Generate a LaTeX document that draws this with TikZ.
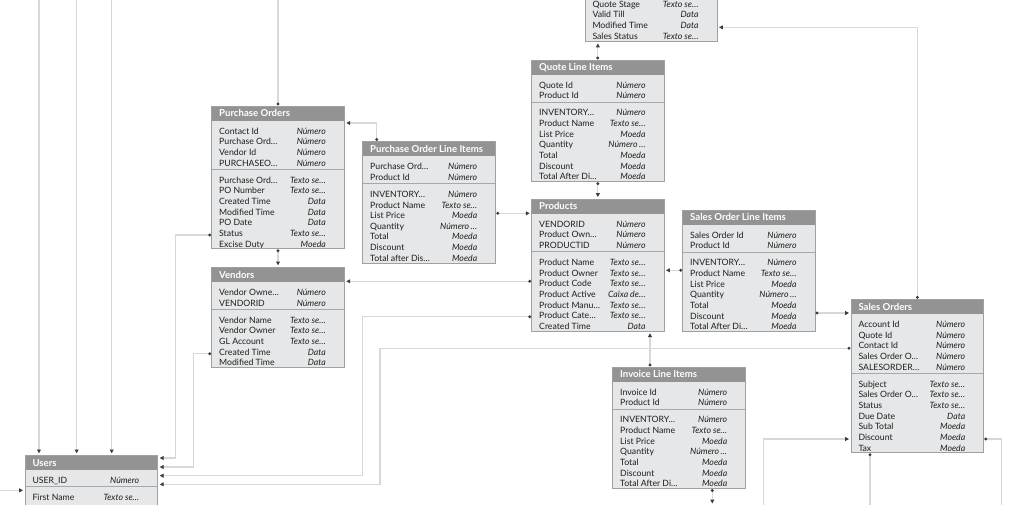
\documentclass[tikz,border=0pt]{standalone}
\usepackage{fontspec}
\setmainfont{Lato}
\usetikzlibrary{arrows.meta,calc}
\definecolor{hdrgray}{HTML}{939393}
\definecolor{bodygray}{HTML}{E6E7E8}
\definecolor{bordergray}{HTML}{A0A0A0}
\definecolor{sepgray}{HTML}{A8A8A8}
\definecolor{linegray}{HTML}{D8D8D8}
\definecolor{tipcol}{HTML}{3C3C3C}
\definecolor{txtcol}{HTML}{1E1E1E}
\tikzset{
  tblbody/.style={fill=bodygray, inner sep=0pt, outer sep=0pt},
  tblhead/.style={fill=hdrgray, inner sep=0pt, outer sep=0pt},
  tbltitle/.style={inner sep=0pt, text=white, font=\fontsize{9.6}{11}\selectfont\bfseries},
  tblborder/.style={draw=bordergray, line width=1pt},
  sepline/.style={draw=sepgray, line width=0.9pt},
  rowname/.style={anchor=base west, inner sep=0pt, text=txtcol, font=\fontsize{8.7}{10}\selectfont},
  rowtype/.style={anchor=base east, inner sep=0pt, text=txtcol, font=\fontsize{8.7}{10}\selectfont\itshape},
  conn/.style={draw=linegray, line width=1.1pt, shorten >=2pt, shorten <=0.6pt},
  dotarrow/.style={conn, {Circle[length=2.8pt,color=tipcol]}-{Triangle[length=3.8pt,width=3.8pt,color=tipcol]}},
  toarrow/.style={conn, -{Triangle[length=3.8pt,width=3.8pt,color=tipcol]}},
  dotonly/.style={conn, {Circle[length=2.8pt,color=tipcol]}-},
}
% #1 name #2 left #3 top #4 right #5 title #6 n1 #7 rows1 #8 n2 #9 rows2
\newcommand\dbtable[9]{%
  \pgfmathsetmacro\tL{#2}\pgfmathsetmacro\tT{#3}\pgfmathsetmacro\tR{#4}%
  \pgfmathsetmacro\tW{#4-#2}%
  \pgfmathsetmacro\tHB{#3+14.5}%
  \pgfmathsetmacro\tSep{\tHB+10.5+(#6-1)*10.65+6.3}%
  \pgfmathsetmacro\tBot{\tSep+10.7+(#8-1)*10.65+5}%
  \pgfmathsetmacro\tH{\tBot-#3}%
  \node[tblbody, minimum width=\tW pt, minimum height=\tH pt, anchor=north west] (#1) at (\tL,\tT) {};
  \node[tblhead, minimum width=\tW pt, minimum height=14.5pt, anchor=north west] (#1-h) at (\tL,\tT) {};
  \node[tbltitle, anchor=base west] (#1-t) at (\tL+7.3,\tT+10.9) {#5};
  \draw[sepline] (\tL,\tSep) -- (\tR,\tSep);
  \foreach \nm/\ty [count=\i] in {#7} {
    \pgfmathsetmacro\yy{\tHB+10.5+(\i-1)*10.65+3.2}
    \node[rowname] (#1-a\i) at (\tL+7.3,\yy) {\nm};
    \node[rowtype] (#1-a\i t) at (\tR-18.3,\yy) {\ty};
  }
  \foreach \nm/\ty [count=\i] in {#9} {
    \pgfmathsetmacro\yy{\tSep+10.7+(\i-1)*10.65+3.2}
    \node[rowname] (#1-b\i) at (\tL+7.3,\yy) {\nm};
    \node[rowtype] (#1-b\i t) at (\tR-18.3,\yy) {\ty};
  }
  \draw[tblborder] (#1.north west) rectangle (#1.south east);
}
\begin{document}
\begin{tikzpicture}[x=1pt,y=-1pt]
\useasboundingbox (0,0) rectangle (1024,504);
\clip (0,0) rectangle (1024,504);
\fill[white] (0,0) rectangle (1024,504);

% partially visible Quotes table
\node[tblbody, minimum width=132pt, minimum height=70pt, anchor=south west] (quote) at (585,41.5) {};
\foreach \nm/\ty [count=\i] in {Quote Stage/Texto se…, Valid Till/Data, Modified Time/Data, Sales Status/Texto se…}{
  \pgfmathsetmacro\yy{4.05+(\i-1)*10.65+3.2}
  \node[rowname] (quote-b\i) at (592.3,\yy) {\nm};
  \node[rowtype] (quote-b\i t) at (698.7,\yy) {\ty};
}
\draw[tblborder] (quote.north west) rectangle (quote.south east);

\dbtable{po}{211.7}{106}{344.3}{Purchase Orders}{4}{Contact Id/Número, Purchase Ord…/Número, Vendor Id/Número, PURCHASEO…/Número}{7}{Purchase Ord…/Texto se…, PO Number/Texto se…, Created Time/Data, Modified Time/Data, PO Date/Data, Status/Texto se…, Excise Duty/Moeda}

\dbtable{poli}{362.7}{141.5}{495.7}{Purchase Order Line Items}{2}{Purchase Ord…/Número, Product Id/Número}{7}{INVENTORY…/Número, Product Name/Texto se…, List Price/Moeda, Quantity/Número\,…, Total/Moeda, Discount/Moeda, Total after Dis…/Moeda}

\dbtable{vendors}{211.7}{267.3}{344.3}{Vendors}{2}{Vendor Owne…/Número, VENDORID/Número}{5}{Vendor Name/Texto se…, Vendor Owner/Texto se…, GL Account/Texto se…, Created Time/Data, Modified Time/Data}

\dbtable{qli}{531.7}{60}{664}{Quote Line Items}{2}{Quote Id/Número, Product Id/Número}{7}{INVENTORY…/Número, Product Name/Texto se…, List Price/Moeda, Quantity/Número\,…, Total/Moeda, Discount/Moeda, Total After Di…/Moeda}

\dbtable{products}{531.7}{199}{664}{Products}{3}{VENDORID/Número, Product Own…/Número, PRODUCTID/Número}{7}{Product Name/Texto se…, Product Owner/Texto se…, Product Code/Texto se…, Product Active/Caixa de…, Product Manu…/Texto se…, Product Cate…/Texto se…, Created Time/Data}

\dbtable{soli}{682.7}{210}{815}{Sales Order Line Items}{2}{Sales Order Id/Número, Product Id/Número}{7}{INVENTORY…/Número, Product Name/Texto se…, List Price/Moeda, Quantity/Número\,…, Total/Moeda, Discount/Moeda, Total After Di…/Moeda}

\dbtable{so}{851}{299.3}{983.7}{Sales Orders}{5}{Account Id/Número, Quote Id/Número, Contact Id/Número, Sales Order O…/Número, SALESORDER…/Número}{7}{Subject/Texto se…, Sales Order O…/Texto se…, Status/Texto se…, Due Date/Data, Sub Total/Moeda, Discount/Moeda, Tax/Moeda}

\dbtable{il}{612.7}{367}{745.7}{Invoice Line Items}{2}{Invoice Id/Número, Product Id/Número}{7}{INVENTORY…/Número, Product Name/Texto se…, List Price/Moeda, Quantity/Número\,…, Total/Moeda, Discount/Moeda, Total After Di…/Moeda}

\dbtable{users}{25}{455.3}{157.7}{Users}{1}{USER\_ID/Número}{3}{First Name/Texto se…}

% free ends of connectors leaving the picture
\coordinate (topA) at (39,-3);
\coordinate (topB) at (76.7,-3);
\coordinate (topC) at (111.7,-3);
\coordinate (topD) at (278,-3);
\coordinate (botA) at (712.3,505.5);
\coordinate (botB) at (763.3,507);
\coordinate (botC) at (870,507);
\coordinate (botD) at (1001.7,507);
\coordinate (leftA) at (-3,490.3);

% helper attachment points
\coordinate (pA) at ($(products.north west)+(0,14.3)$);
\coordinate (vA) at ($(vendors.north east)+(0,14)$);
\coordinate (sA) at ($(so.north west)+(0,13.7)$);
\coordinate (pB) at ($(products.north east)+(0,71.3)$);
\coordinate (iA) at ($(il.north west)+(37.3,0)$);
\coordinate (iB) at ($(il.south west)+(99.6,0)$);
\coordinate (sB) at ($(so.south west)+(19,0)$);
\coordinate (qA) at ($(quote.south east)+(0,-14.2)$);

% connectors
\draw[toarrow] (topA) -- (topA |- users.north);
\draw[toarrow] (topB) -- (topB |- users.north);
\draw[toarrow] (topC) -- (topC |- users.north);
\draw[dotonly] (po.north) -- (po.north |- topD);
\draw[dotarrow] (po.south) -- (vendors.north);
\draw[dotarrow] ($(poli.north west)+(14,0)$) |- ($(po.north east)+(0,17)$);
\draw[dotarrow] (poli.east |- pA) -- (pA);
\draw[dotarrow] (products.west |- vA) -- (vA);
\draw[dotarrow] ($(po.north west)+(0,129)$) -| ($(users.north east)+(18,2.7)$) -- ($(users.north east)+(0,2.7)$);
\draw[dotarrow] ($(vendors.north west)+(0,86.4)$) -| ($(users.north east)+(35.6,11.7)$) -- ($(users.north east)+(0,11.7)$);
\draw[dotarrow] ($(products.north west)+(0,117.7)$) -| ($(users.north east)+(204.6,20.4)$) -- ($(users.north east)+(0,20.4)$);
\draw[dotarrow] ($(so.north west)+(0,49)$) -| ($(users.north east)+(222.3,29)$) -- ($(users.north east)+(0,29)$);
\draw[dotarrow] (so.north) |- (qA);
\draw[dotarrow] (soli.east |- sA) -- (sA);
\draw[dotarrow] (soli.west |- pB) -- (pB);
\draw[dotarrow] (iA) -- (iA |- products.south);
\draw[dotarrow] (qli.south) -- (products.north);
\draw[dotarrow] (qli.north) -- (qli.north |- quote.south);
\draw[dotarrow] (iB) -- (iB |- botA);
\draw[dotonly] (sB) -- (sB |- botC);
\draw[dotonly] ($(so.north east)+(0,139.7)$) -| (botD);
\draw[toarrow] (botB) |- ($(so.north west)+(0,139.7)$);
\draw[toarrow] (leftA) -- (users.west |- leftA);
\end{tikzpicture}
\end{document}
